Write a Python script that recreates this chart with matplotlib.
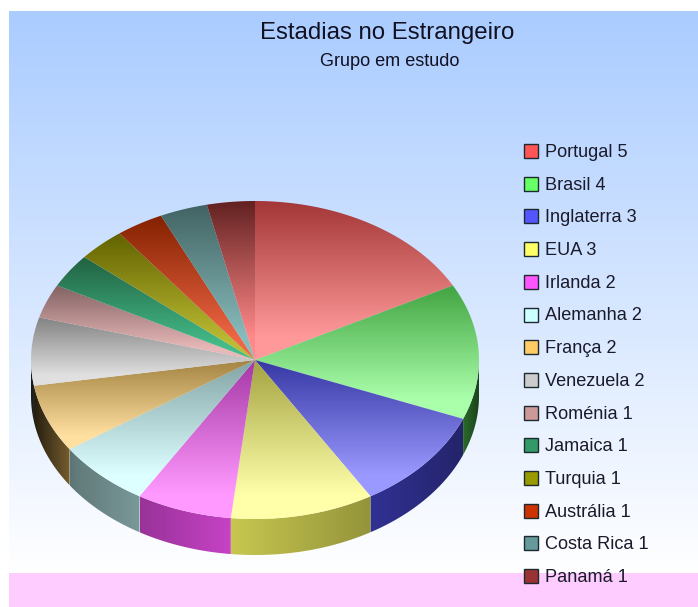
import numpy as np
import matplotlib
matplotlib.use('Agg')
from matplotlib import pyplot as plt
from matplotlib.colors import to_rgb, LinearSegmentedColormap
from matplotlib.patches import Polygon, Rectangle

countries = ['Portugal', 'Brasil', 'Inglaterra', 'EUA', 'Irlanda', 'Alemanha', 'França',
             'Venezuela', 'Roménia', 'Jamaica', 'Turquia', 'Austrália', 'Costa Rica', 'Panamá']
stays = [5, 4, 3, 3, 2, 2, 2, 2, 1, 1, 1, 1, 1, 1]
colors = ['#FF5555', '#66FF66', '#5555FF', '#FFFF66', '#FF55FF', '#CCFFFF', '#FFCC66',
          '#CCCCCC', '#CC9999', '#339966', '#999900', '#CC3300', '#669999', '#993333']
# lighter end of each slice's gradient
highlights = ['#FF9999', '#AAFFAA', '#9999FF', '#FFFFAA', '#FF99FF', '#DDFFFF', '#FFE0A0',
              '#E0E0E0', '#E8B8B8', '#44BB88', '#BBBB33', '#EE6644', '#88BBBB', '#FF8888']

W, H = 698, 607
CX, CY = 255, 360
RX, RY = 224, 159
DEPTH = 36

# brightness of the rim against screen x
rim_x = [31, 71, 140, 231, 370, 463, 480]
rim_f = [0.12, 0.47, 0.6, 0.78, 0.58, 0.42, 0.25]

plt.rcParams['font.family'] = ['Liberation Sans', 'DejaVu Sans']

fig = plt.figure(figsize=(W / 100, H / 100), dpi=100)
ax = fig.add_axes([0, 0, 1, 1])
ax.set_xlim(0, W)
ax.set_ylim(H, 0)
ax.axis('off')


def gradient(poly, stops, vertical=True):
    # fill a polygon with a linear gradient over its bounding box
    x0, y0 = poly.min(axis=0)
    x1, y1 = poly.max(axis=0)
    cm = LinearSegmentedColormap.from_list('g', stops)
    g = np.linspace(0, 1, 256)
    g = g[:, None] if vertical else g[None, :]
    im = ax.imshow(g, cmap=cm, extent=[x0, x1, y1, y0], aspect='auto', zorder=3, vmin=0, vmax=1)
    patch = Polygon(poly, closed=True, transform=ax.transData, fc='none', ec='none')
    ax.add_patch(patch)
    im.set_clip_path(patch)


# background bands
bg = LinearSegmentedColormap.from_list('bg', ['#AACCFF', '#FFFFFF'])
ax.imshow(np.linspace(0, 1, 256)[:, None], cmap=bg, extent=[9, W, 573, 11], aspect='auto', zorder=1)
ax.add_patch(Rectangle((9, 573), W - 9, H - 573, fc='#FFCCFF', ec='none', zorder=1))

edges = np.cumsum([0] + stays) / sum(stays) * 2 * np.pi

# rim of the disc, only the part facing the viewer
for i, c in enumerate(colors):
    a0 = max(edges[i], np.pi / 2)
    a1 = min(edges[i + 1], 3 * np.pi / 2)
    if a1 <= a0:
        continue
    t = np.linspace(a0, a1, 60)
    x = CX + RX * np.sin(t)
    y = CY - RY * np.cos(t)
    poly = np.vstack([np.c_[x, y], np.c_[x, y + DEPTH][::-1]])
    xs = np.linspace(x.min(), x.max(), 12)
    base = np.array(to_rgb(c))
    stops = [tuple(base * f) for f in np.interp(xs, rim_x, rim_f)]
    gradient(poly, stops, vertical=False)

# top face, dark at the upper edge of each slice and light towards the lower edge
for i, c in enumerate(colors):
    t = np.linspace(edges[i], edges[i + 1], 80)
    x = CX + RX * np.sin(t)
    y = CY - RY * np.cos(t)
    poly = np.vstack([[CX, CY], np.c_[x, y]])
    dark = tuple(np.array(to_rgb(c)) * 0.64)
    gradient(poly, [(0, dark), (0.85, highlights[i]), (1, highlights[i])])

# legend
for i, (name, n, c) in enumerate(zip(countries, stays, colors)):
    y = 151 + i * 32.7
    ax.add_patch(Rectangle((524, y - 7), 14, 14, fc=c, ec='#1c2a30', lw=1.0, zorder=4))
    ax.text(545, y + 1.5, f'{name} {n}', fontsize=13.1, color='#1a1a2a', va='center', ha='left', zorder=4)

ax.set_xlim(0, W)
ax.set_ylim(H, 0)

ax.text(387, 32.5, 'Estadias no Estrangeiro', fontsize=17.3, color='#111122', ha='center', va='center', zorder=4)
ax.text(390, 61, 'Grupo em estudo', fontsize=13.1, color='#111122', ha='center', va='center', zorder=4)

fig.savefig('out.png', dpi=100)
